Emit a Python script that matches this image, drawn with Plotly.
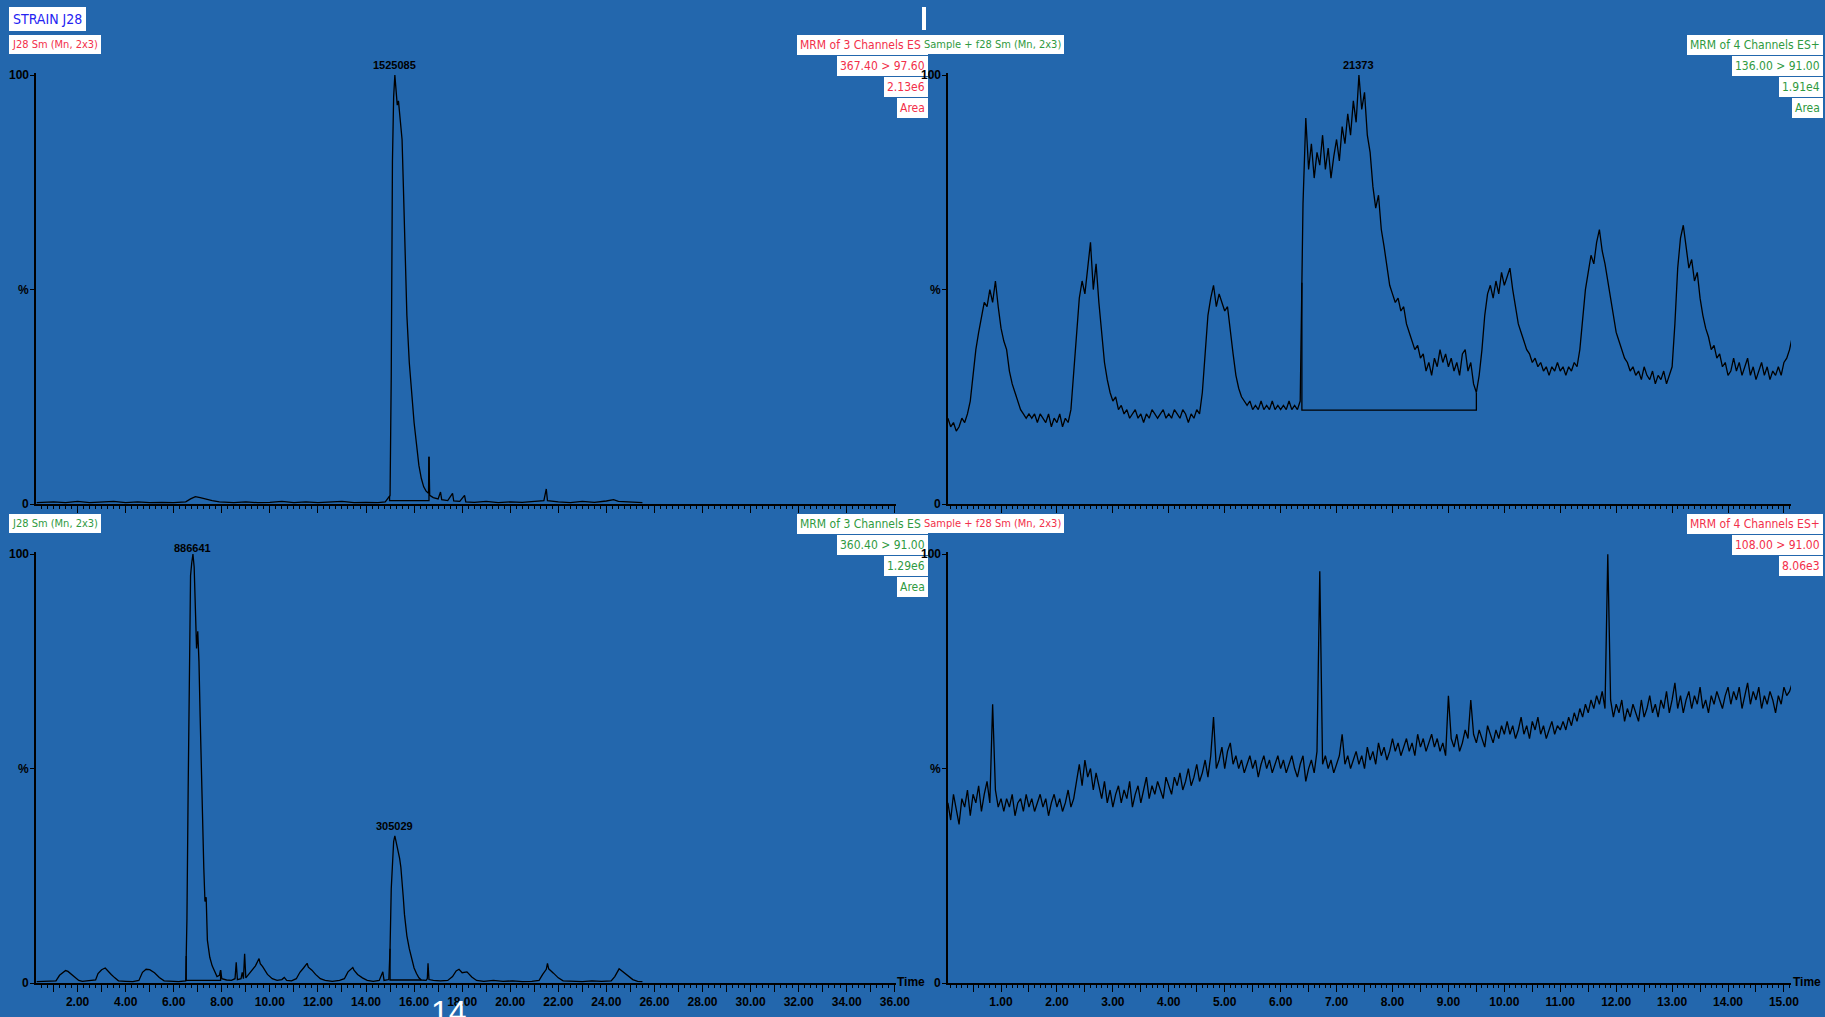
import numpy as np
import plotly.graph_objects as go

W, H = 1825, 1017
BG = "#2367AD"
RED = "#F2304A"
GREEN = "#2F9A3F"
BLUE_TXT = "#2424F2"
COND = "DejaVu Sans Condensed, Liberation Sans Narrow, Liberation Sans, sans-serif"
BOLD = "Liberation Sans, Arial, sans-serif"

# ---------------- data ----------------
# J28 Sm (Mn, 2x3)  MRM 367.40 > 97.60, 2.13e6
tl_time = [0.3, 1.0, 1.5, 2.0, 2.5, 3.0, 3.5, 4.0, 4.5, 5.0, 5.5, 6.0, 6.5, 6.7, 6.9, 7.1, 7.3, 7.6,
           7.9, 8.5, 9.0, 9.5, 10.0, 10.5, 11.0, 11.5, 12.0, 12.5, 13.0, 13.5, 14.0, 14.5, 14.8,
           15.0, 15.05, 15.1, 15.15, 15.2, 15.25, 15.3, 15.35, 15.4, 15.45, 15.5, 15.55, 15.6,
           15.65, 15.7, 15.8, 15.9, 16.0, 16.1, 16.2, 16.3, 16.4, 16.5, 16.6, 16.62, 16.65, 16.8,
           17.0, 17.1, 17.15, 17.4, 17.6, 17.65, 17.9, 18.1, 18.15, 18.5, 19.0, 19.5, 20.0, 20.5,
           21.0, 21.4, 21.5, 21.55, 22.0, 22.5, 23.0, 23.5, 24.0, 24.3, 24.5, 25.0, 25.5]
tl_int = [0.3, 0.5, 0.3, 0.6, 0.3, 0.4, 0.6, 0.3, 0.5, 0.3, 0.4, 0.3, 0.5, 1.2, 1.7, 1.5, 1.2, 0.8,
          0.5, 0.3, 0.5, 0.3, 0.4, 0.6, 0.3, 0.5, 0.3, 0.4, 0.6, 0.3, 0.4, 0.3, 0.5,
          2.0, 30, 80, 95, 100, 97, 93, 94, 91, 89, 85, 75, 63,
          52, 44, 33, 25, 19, 14, 9, 6, 4, 3, 2.5, 11, 2.0, 1.5,
          1.2, 2.8, 1.0, 0.8, 2.5, 0.7, 0.6, 2.0, 0.5, 0.4, 0.6, 0.3, 0.5, 0.4,
          0.6, 0.8, 3.5, 0.8, 0.5, 0.3, 0.6, 0.4, 0.7, 1.0, 0.6, 0.4, 0.3]

# J28 Sm (Mn, 2x3)  MRM 360.40 > 91.00, 1.29e6
bl_time = [0.3, 0.8, 1.1, 1.25, 1.4, 1.5, 1.6, 1.75, 1.9, 2.05, 2.2, 2.5, 2.75, 2.85, 3.0, 3.15,
           3.25, 3.4, 3.55, 3.7, 4.0, 4.3, 4.55, 4.7, 4.85, 5.0, 5.2, 5.4, 5.6, 5.9, 6.2, 6.5,
           6.55, 6.6, 6.65, 6.7, 6.75, 6.8, 6.85, 6.9, 6.95, 7.0, 7.05, 7.1, 7.15, 7.2, 7.25,
           7.3, 7.35, 7.4, 7.5, 7.6, 7.7, 7.8, 7.9, 7.95, 8.0, 8.2, 8.4, 8.55, 8.6, 8.65, 8.8,
           8.85, 8.9, 8.95, 9.0, 9.2, 9.4, 9.55, 9.6, 9.7, 9.9, 10.1, 10.3, 10.5, 10.6, 10.7,
           10.9, 11.1, 11.25, 11.4, 11.55, 11.6, 11.75, 11.9, 12.1, 12.3, 12.6, 12.9, 13.1,
           13.25, 13.45, 13.5, 13.65, 13.85, 14.05, 14.3, 14.55, 14.7, 14.75, 14.95, 15.0,
           15.05, 15.1, 15.15, 15.2, 15.25, 15.3, 15.35, 15.4, 15.45, 15.5, 15.55, 15.6, 15.65,
           15.7, 15.8, 15.9, 16.0, 16.1, 16.2, 16.3, 16.5, 16.55, 16.58, 16.62, 16.8, 17.1,
           17.4, 17.6, 17.75, 17.87, 18.0, 18.2, 18.4, 18.6, 18.9, 19.3, 19.7, 20.1, 20.5,
           20.9, 21.2, 21.35, 21.5, 21.55, 21.6, 21.8, 22.0, 22.2, 22.6, 23.0, 23.4, 23.8,
           24.2, 24.35, 24.53, 24.7, 24.9, 25.1, 25.3, 25.5]
bl_int = [0.3, 0.4, 0.5, 1.8, 2.6, 2.9, 2.7, 2.0, 1.2, 0.6, 0.4, 0.5, 0.7, 2.2, 3.1, 3.5,
          2.8, 2.0, 1.2, 0.5, 0.4, 0.3, 0.6, 2.5, 3.2, 3.1, 2.4, 1.3, 0.5, 0.4, 0.3, 0.5,
          15, 45, 80, 95, 98, 100, 97, 86, 78, 82, 75, 62, 48, 36, 27,
          19, 20, 10, 6, 4, 2.5, 1.5, 1.8, 3.0, 1.0, 0.7, 0.6, 1.0, 4.8, 0.8, 1.0,
          2.5, 1.0, 6.8, 1.2, 2.5, 4.0, 5.7, 4.5, 3.8, 2.0, 1.0, 0.6, 0.8, 1.3, 0.6,
          0.5, 1.0, 2.5, 3.5, 4.6, 3.7, 3.0, 2.0, 1.0, 0.6, 0.4, 0.6, 1.0,
          2.6, 3.6, 3.0, 2.0, 1.2, 0.6, 0.4, 0.6, 2.6, 0.6, 0.8, 8,
          22, 30, 33, 34.3, 33, 32, 31, 29, 27, 24, 20, 16, 13,
          11, 8, 5.5, 3.5, 2.2, 1.2, 0.7, 0.6, 1.0, 4.6, 0.8, 0.6, 0.5,
          0.6, 1.5, 2.8, 3.2, 2.4, 2.6, 1.4, 0.6, 0.4, 0.6, 0.4, 0.5, 0.3,
          0.4, 0.6, 2.0, 3.2, 4.6, 3.3, 2.3, 1.2, 0.5, 0.4, 0.3, 0.5, 0.4,
          0.5, 1.5, 3.3, 2.5, 1.6, 0.8, 0.4, 0.3]

# Sample + f28 Sm (Mn, 2x3): scans every 0.05 min, 0.05 - 15.15 min
r_time = np.round(np.arange(1, 304) * 0.05, 2)

# MRM 136.00 > 91.00, 1.91e4
tr_int = [
    20, 18, 19, 17, 18, 20, 19, 21, 24, 30, 36, 40, 44, 47, 46, 50, 47, 52, 46, 41,
    38, 36, 31, 28, 26, 24, 22, 21, 20, 21, 20, 21, 19, 21, 20, 19, 21, 18, 20, 19,
    21, 18, 20, 19, 22, 30, 40, 48, 52, 49, 55, 61, 50, 56, 47, 40, 33, 29, 26, 24,
    25, 22, 23, 21, 22, 20, 21, 22, 20, 21, 19, 21, 20, 22, 21, 20, 21, 22, 20, 21,
    20, 22, 21, 20, 22, 21, 19, 21, 20, 22, 21, 26, 35, 44, 48, 51, 46, 49, 47, 45,
    46, 40, 35, 30, 27, 25, 24, 23, 24, 22, 23, 22, 24, 22, 23, 22, 24, 22, 23, 22,
    23, 22, 24, 22, 23, 22, 24, 70, 90, 78, 84, 76, 82, 79, 86, 78, 83, 76, 81, 85,
    80, 88, 84, 91, 86, 94, 89, 100, 92, 96, 86, 82, 74, 69, 72, 64, 60, 55, 51, 49,
    47, 48, 45, 46, 42, 40, 38, 36, 37, 34, 35, 31, 33, 30, 34, 32, 36, 33, 35, 32,
    34, 31, 33, 30, 35, 36, 31, 33, 28, 26, 30, 36, 44, 49, 51, 48, 52, 49, 54, 51,
    53, 55, 50, 46, 42, 40, 38, 36, 35, 33, 34, 32, 33, 31, 32, 30, 32, 31, 33, 31,
    32, 30, 32, 31, 33, 32, 36, 44, 50, 54, 58, 56, 61, 64, 59, 56, 52, 47, 43, 40,
    38, 36, 34, 33, 31, 32, 30, 31, 29, 32, 30, 29, 31, 28, 30, 29, 31, 28, 30, 32,
    42, 55, 62, 65, 60, 55, 57, 52, 54, 48, 44, 41, 39, 36, 37, 34, 35, 32, 33, 30,
    31, 34, 31, 33, 30, 32, 34, 30, 32, 29, 31, 33, 30, 32, 29, 31, 30, 32, 30, 33,
    34, 36, 39,
]

# MRM 108.00 > 91.00, 8.06e3
br_int = [
    42, 38, 44, 40, 37, 43, 41, 45, 39, 44, 42, 46, 40, 44, 47, 42, 65, 45, 41, 43,
    40, 43, 41, 44, 39, 42, 43, 40, 44, 41, 43, 40, 42, 44, 41, 43, 39, 42, 44, 41,
    43, 40, 42, 45, 41, 43, 47, 51, 46, 52, 48, 50, 45, 49, 46, 43, 47, 42, 45, 41,
    44, 46, 42, 45, 43, 47, 41, 44, 46, 42, 45, 48, 43, 46, 44, 47, 45, 43, 48, 46,
    44, 48, 46, 49, 45, 47, 50, 46, 48, 51, 47, 49, 52, 48, 53, 62, 50, 52, 55, 50,
    54, 56, 51, 53, 50, 52, 49, 51, 53, 50, 52, 48, 51, 53, 50, 52, 49, 51, 53, 50,
    52, 49, 51, 53, 50, 48, 51, 53, 47, 50, 52, 49, 54, 96, 51, 53, 50, 52, 49, 51,
    53, 58, 51, 53, 50, 52, 54, 51, 53, 50, 55, 52, 54, 51, 56, 53, 55, 52, 54, 57,
    54, 56, 53, 55, 57, 54, 56, 53, 58, 55, 57, 54, 56, 58, 55, 57, 54, 56, 53, 67,
    57, 55, 58, 54, 56, 59, 57, 66, 58, 56, 59, 57, 55, 60, 58, 56, 59, 57, 60, 58,
    61, 58, 60, 57, 59, 62, 58, 60, 57, 61, 59, 62, 58, 60, 57, 59, 61, 58, 60, 59,
    61, 59, 62, 60, 63, 61, 64, 62, 65, 63, 66, 64, 67, 65, 68, 64, 100, 66, 62, 65,
    63, 66, 61, 64, 62, 65, 63, 61, 66, 62, 64, 67, 63, 65, 62, 66, 64, 68, 63, 66,
    70, 64, 67, 63, 66, 68, 64, 67, 65, 69, 64, 66, 63, 67, 65, 68, 66, 64, 67, 69,
    65, 68, 66, 69, 64, 67, 70, 65, 68, 66, 69, 64, 67, 65, 68, 66, 63, 67, 65, 69,
    67, 68, 70,
]

# integration windows: (start, end, baseline %)
tl_window = (14.98, 16.62, 0.8)
tr_window = (6.38, 9.50, 21.9)
bl_windows = [(6.52, 7.95, 0.6), (15.0, 16.3, 0.7)]

# peak area labels: (time, text)
tl_labels = [(15.2, "1525085")]
tr_labels = [(7.40, "21373")]
bl_labels = [(6.78, "886641"), (15.2, "305029")]

# header text blocks
left_titles = ["J28 Sm (Mn, 2x3)", "J28 Sm (Mn, 2x3)"]
right_titles = ["Sample + f28 Sm (Mn, 2x3)", "Sample + f28 Sm (Mn, 2x3)"]
tl_info = ["MRM of 3 Channels ES-", "367.40 > 97.60", "2.13e6", "Area"]
bl_info = ["MRM of 3 Channels ES-", "360.40 > 91.00", "1.29e6", "Area"]
tr_info = ["MRM of 4 Channels ES+", "136.00 > 91.00", "1.91e4", "Area"]
br_info = ["MRM of 4 Channels ES+", "108.00 > 91.00", "8.06e3"]

y_ticks = [0, 50, 100]
y_ticktext = ["0", "%", "100"]
left_major = list(range(1, 37))
left_text = [f"{v:.2f}" if v % 2 == 0 else "" for v in left_major]
right_major = [k * 0.5 for k in range(1, 31)]
right_text = [f"{v:.2f}" if v == int(v) else "" for v in right_major]

# ---------------- figure ----------------
def fx(px):
    return px / W


def fy(py):
    return 1 - py / H


LEFT_X, RIGHT_X = 36, 948
LEFT_DOM = [fx(LEFT_X), fx(896)]
RIGHT_DOM = [fx(RIGHT_X), fx(1791)]
TOP_DOM = [fy(504), fy(73)]
BOT_DOM = [fy(983), fy(552)]
LEFT_RANGE = [0.27, 36.05]
RIGHT_RANGE = [0.052, 15.126]

fig = go.Figure()

LINE = dict(color="black", width=1.3)


def add_trace(t, y, ax):
    fig.add_trace(go.Scatter(x=t, y=y, mode="lines", line=LINE, hoverinfo="skip",
                             showlegend=False, xaxis="x" + ax, yaxis="y" + ax))


def add_window(t, y, win, ax):
    s, e, base = win
    ys = float(np.interp(s, t, y))
    ye = float(np.interp(e, t, y))
    fig.add_trace(go.Scatter(x=[s, s, e, e], y=[ys, base, base, ye], mode="lines",
                             line=LINE, hoverinfo="skip", showlegend=False,
                             xaxis="x" + ax, yaxis="y" + ax))


add_trace(tl_time, tl_int, "")
add_window(tl_time, tl_int, tl_window, "")
add_trace(r_time, tr_int, "2")
add_window(r_time, tr_int, tr_window, "2")
add_trace(bl_time, bl_int, "3")
for w in bl_windows:
    add_window(bl_time, bl_int, w, "3")
add_trace(r_time, br_int, "4")

TICKFONT = dict(family=BOLD, size=12, color="black", weight="bold")


def xaxis(domain, rng, vals, text, minor_dtick, anchor, labels):
    return dict(domain=domain, range=rng, anchor=anchor, showgrid=False, zeroline=False,
                showline=True, linecolor="black", linewidth=1.5,
                tickmode="array", tickvals=vals, ticktext=text, showticklabels=labels,
                ticks="outside", ticklen=7, tickwidth=1.2, tickcolor="black",
                tickfont=TICKFONT, tickangle=0, automargin=False,
                minor=dict(tickmode="linear", tick0=0, dtick=minor_dtick, ticks="outside",
                           ticklen=3, tickwidth=1, tickcolor="black", showgrid=False),
                fixedrange=True)


def yaxis(domain, anchor):
    return dict(domain=domain, range=[0, 100.5], anchor=anchor, showgrid=False, zeroline=False,
                showline=True, linecolor="black", linewidth=1.5,
                tickmode="array", tickvals=y_ticks, showticklabels=False,
                ticks="outside", ticklen=4, tickwidth=1.2, tickcolor="black",
                automargin=False, fixedrange=True)


ann = []


def box(text, x, y, color, xanchor="right", size=12, pad=3):
    ann.append(dict(text=text, x=fx(x), y=fy(y), xref="paper", yref="paper",
                    xanchor=xanchor, yanchor="middle", showarrow=False,
                    bgcolor="white", borderpad=pad, borderwidth=0,
                    font=dict(family=COND, size=size, color=color)))


box("STRAIN J28", 9, 19, BLUE_TXT, xanchor="left", size=14, pad=4)

# left-panel header blocks
for i, line in enumerate(tl_info):
    box(line, 928, 45 + 21 * i, RED)
for i, line in enumerate(bl_info):
    box(line, 928, 523.5 + 21 * i, GREEN)
box(left_titles[0], 9, 44.5, RED, xanchor="left", size=11)
box(left_titles[1], 9, 523.5, GREEN, xanchor="left", size=11)

# right-panel header blocks
box(right_titles[0], 921, 45, GREEN, xanchor="left", size=11)
box(right_titles[1], 921, 523.5, RED, xanchor="left", size=11)
for i, line in enumerate(tr_info):
    box(line, 1823, 45 + 21 * i, GREEN)
for i, line in enumerate(br_info):
    box(line, 1823, 523.5 + 21 * i, RED)

# y tick labels, drawn on top of the header boxes
for ax, xpx in (("", LEFT_X), ("2", RIGHT_X), ("3", LEFT_X), ("4", RIGHT_X)):
    for v, txt in zip(y_ticks, y_ticktext):
        ann.append(dict(text=txt, x=fx(xpx - 5), y=v, xref="paper", yref="y" + ax,
                        xanchor="right", yanchor="middle", showarrow=False,
                        font=dict(family=BOLD, size=12, color="black", weight="bold")))

# peak area labels
for ax, labels, t, y in (("", tl_labels, tl_time, tl_int), ("2", tr_labels, r_time, tr_int),
                         ("3", bl_labels, bl_time, bl_int)):
    for tpk, txt in labels:
        ann.append(dict(text=txt, x=tpk, y=float(np.interp(tpk, t, y)), xref="x" + ax, yref="y" + ax,
                        xanchor="center", yanchor="bottom", yshift=2, showarrow=False,
                        font=dict(family=BOLD, size=11, color="black", weight="bold")))

# axis titles
for xp in (911, 1807):
    ann.append(dict(text="Time", x=fx(xp), y=fy(982), xref="paper", yref="paper",
                    xanchor="center", yanchor="middle", showarrow=False,
                    font=dict(family=BOLD, size=12, color="black", weight="bold")))

# page number
ann.append(dict(text="14", x=fx(449), y=fy(992), xref="paper", yref="paper",
                xanchor="center", yanchor="top", showarrow=False,
                font=dict(family="Liberation Sans, Arial, sans-serif", size=32, color="white")))

fig.update_layout(
    width=W, height=H, autosize=False,
    margin=dict(l=0, r=0, t=0, b=0, pad=0),
    paper_bgcolor=BG, plot_bgcolor=BG,
    showlegend=False,
    xaxis=xaxis(LEFT_DOM, LEFT_RANGE, left_major, left_text, 0.25, "y", False),
    yaxis=yaxis(TOP_DOM, "x"),
    xaxis2=xaxis(RIGHT_DOM, RIGHT_RANGE, right_major, right_text, 0.1, "y2", False),
    yaxis2=yaxis(TOP_DOM, "x2"),
    xaxis3=xaxis(LEFT_DOM, LEFT_RANGE, left_major, left_text, 0.25, "y3", True),
    yaxis3=yaxis(BOT_DOM, "x3"),
    xaxis4=xaxis(RIGHT_DOM, RIGHT_RANGE, right_major, right_text, 0.1, "y4", True),
    yaxis4=yaxis(BOT_DOM, "x4"),
    annotations=ann,
    shapes=[dict(type="rect", xref="paper", yref="paper", x0=fx(922), x1=fx(926),
                 y0=fy(30), y1=fy(7), fillcolor="white", line=dict(width=0))],
)

fig.write_html(
    "out.html",
    config=dict(displayModeBar=False, responsive=False),
    post_script="document.body.style.margin='0';document.body.style.overflow='hidden';",
)
